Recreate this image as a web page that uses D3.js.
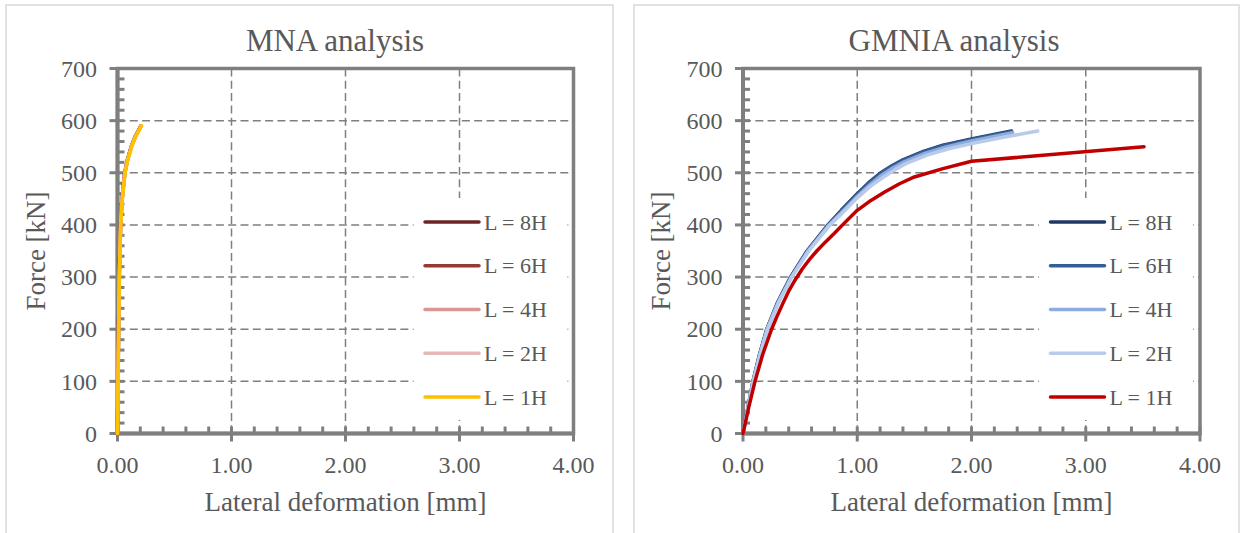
<!DOCTYPE html>
<html>
<head>
<meta charset="utf-8">
<script src="https://cdn.jsdelivr.net/npm/d3@7"></script>
<style>
body { margin: 0; background: #fff; }
text { font-family: "Liberation Serif", serif; fill: #595959; }
</style>
</head>
<body>
<svg width="1242" height="533"></svg>
<script>
// axis ticks
var xTicks = [0, 1, 2, 3, 4];
var yTicks = [0, 100, 200, 300, 400, 500, 600, 700];
var xMinor = d3.range(0, 4.001, 0.2);
var yMinor = d3.range(0, 701, 20);
var legendLabels = ["L = 8H", "L = 6H", "L = 4H", "L = 2H", "L = 1H"];

// MNA analysis: [lateral deformation mm, force kN]
var mna8H = [[0,0],[0.004,100],[0.009,200],[0.015,300],[0.026,400],[0.04,450],[0.063,500],[0.087,525],[0.12,550],[0.156,570],[0.205,590]];
var mna6H = [[0,0],[0.004,100],[0.009,200],[0.015,300],[0.027,400],[0.041,450],[0.064,500],[0.088,525],[0.121,550],[0.157,570],[0.206,590]];
var mna4H = [[0,0],[0.005,100],[0.01,200],[0.016,300],[0.027,400],[0.041,450],[0.065,500],[0.089,525],[0.122,550],[0.158,570],[0.208,590]];
var mna2H = [[0,0],[0.005,100],[0.01,200],[0.016,300],[0.028,400],[0.042,450],[0.065,500],[0.09,525],[0.123,550],[0.159,570],[0.209,590]];
var mna1H = [[0,0],[0.005,100],[0.01,200],[0.016,300],[0.028,400],[0.042,450],[0.066,500],[0.09,525],[0.124,550],[0.16,570],[0.21,590]];

// GMNIA analysis
var gmnia8H = [[0,0],[0.087,100],[0.143,150],[0.208,200],[0.3,250],[0.416,300],[0.56,350],[0.743,400],[0.86,428],[1.0,460],[1.1,481],[1.2,499],[1.3,513],[1.4,525],[1.58,541],[1.75,553],[2.0,565],[2.35,580]];
var gmnia6H = [[0,0],[0.088,100],[0.144,150],[0.209,200],[0.302,250],[0.418,300],[0.563,350],[0.746,400],[0.863,427],[1.0,458],[1.1,480],[1.2,498],[1.3,512],[1.4,524],[1.58,540],[1.75,552],[2.0,564],[2.35,579]];
var gmnia4H = [[0,0],[0.089,100],[0.146,150],[0.211,200],[0.305,250],[0.422,300],[0.568,350],[0.752,400],[0.87,426],[1.0,455],[1.11,477],[1.21,495],[1.31,509],[1.41,521],[1.59,537],[1.77,549],[2.0,561],[2.36,577]];
var gmnia2H = [[0,0],[0.09,100],[0.148,150],[0.214,200],[0.309,250],[0.427,300],[0.575,350],[0.762,400],[0.88,425],[1.0,452],[1.12,475],[1.23,492],[1.33,506],[1.43,518],[1.61,534],[1.8,546],[2.0,556],[2.3,569],[2.58,580]];
var gmnia1H = [[0,0],[0.05,50],[0.105,100],[0.17,150],[0.25,200],[0.3,226],[0.35,250],[0.4,273],[0.455,294],[0.52,316],[0.59,336],[0.65,351],[0.72,367],[0.8,384],[0.88,402],[1.0,428],[1.12,447],[1.24,463],[1.37,479],[1.5,492],[1.75,508],[2.0,522],[3.51,550]];

var mnaColors = ["#6e2424", "#983836", "#d99694", "#e6b9b8", "#ffc000"];
var gmniaColors = ["#203864", "#34609a", "#8faadc", "#b8cbe8", "#c00000"];

var svg = d3.select("svg");
var gridColor = "#7f7f7f", axisColor = "#7f7f7f";

var panels = [
  { frame: [6, 613], left: 117.5, right: 573.5, title: "MNA analysis", titleX: 335, yTitleX: 45,
    series: [mna8H, mna6H, mna4H, mna2H, mna1H], colors: mnaColors },
  { frame: [634, 1239], left: 743, right: 1200, title: "GMNIA analysis", titleX: 954, yTitleX: 670,
    series: [gmnia8H, gmnia6H, gmnia4H, gmnia2H, gmnia1H], colors: gmniaColors }
];

panels.forEach(drawPanel);

function drawPanel(p) {
  var g = svg.append("g");

  g.append("rect")
      .attr("x", p.frame[0]).attr("y", 5)
      .attr("width", p.frame[1] - p.frame[0]).attr("height", 560)
      .attr("fill", "none").style("stroke", "#d9d9d9").style("stroke-width", "1.5px");

  var x = d3.scaleLinear().domain([0, 4]).range([p.left, p.right]);
  var y = d3.scaleLinear().domain([0, 700]).range([433.5, 68.5]);

  // gridlines
  g.selectAll(".vgrid").data(xTicks.slice(1, -1)).enter().append("line")
      .attr("x1", function(d) { return x(d); }).attr("x2", function(d) { return x(d); })
      .attr("y1", y(700)).attr("y2", y(0))
      .style("stroke", gridColor).style("stroke-width", "1.5px").style("stroke-dasharray", "8,4.3");
  g.selectAll(".hgrid").data(yTicks.slice(1, -1)).enter().append("line")
      .attr("x1", x(0)).attr("x2", x(4))
      .attr("y1", function(d) { return y(d); }).attr("y2", function(d) { return y(d); })
      .style("stroke", gridColor).style("stroke-width", "1.5px").style("stroke-dasharray", "8,4.3");

  // legend background hides the grid
  g.append("rect").attr("x", p.left + 296).attr("y", 198).attr("width", 154).attr("height", 222).attr("fill", "#fff");

  // plot area border
  g.append("rect")
      .attr("x", x(0)).attr("y", y(700))
      .attr("width", x(4) - x(0)).attr("height", y(0) - y(700))
      .attr("fill", "none").style("stroke", axisColor).style("stroke-width", "3.5px");

  // minor ticks, pointing inside
  g.selectAll(".xminor").data(xMinor).enter().append("line")
      .attr("x1", function(d) { return x(d); }).attr("x2", function(d) { return x(d); })
      .attr("y1", y(0)).attr("y2", y(0) - 7)
      .style("stroke", axisColor).style("stroke-width", "3px");
  g.selectAll(".yminor").data(yMinor).enter().append("line")
      .attr("x1", x(0)).attr("x2", x(0) + 7)
      .attr("y1", function(d) { return y(d); }).attr("y2", function(d) { return y(d); })
      .style("stroke", axisColor).style("stroke-width", "3px");

  // major ticks, pointing outside
  g.selectAll(".xmajor").data(xTicks).enter().append("line")
      .attr("x1", function(d) { return x(d); }).attr("x2", function(d) { return x(d); })
      .attr("y1", y(0)).attr("y2", y(0) + 8)
      .style("stroke", axisColor).style("stroke-width", "3px");
  g.selectAll(".ymajor").data(yTicks).enter().append("line")
      .attr("x1", x(0) - 8).attr("x2", x(0))
      .attr("y1", function(d) { return y(d); }).attr("y2", function(d) { return y(d); })
      .style("stroke", axisColor).style("stroke-width", "3px");

  // axes lines
  g.append("line").attr("x1", x(0)).attr("x2", x(4)).attr("y1", y(0)).attr("y2", y(0))
      .style("stroke", axisColor).style("stroke-width", "4px");
  g.append("line").attr("x1", x(0)).attr("x2", x(0)).attr("y1", y(0)).attr("y2", y(700))
      .style("stroke", axisColor).style("stroke-width", "4px");

  // tick labels
  g.selectAll(".xlab").data(xTicks).enter().append("text")
      .attr("x", function(d) { return x(d); }).attr("y", 473)
      .attr("text-anchor", "middle").style("font-size", "24px")
      .text(d3.format(".2f"));
  g.selectAll(".ylab").data(yTicks).enter().append("text")
      .attr("x", x(0) - 20.5).attr("y", function(d) { return y(d); }).attr("dy", "0.34em")
      .attr("text-anchor", "end").style("font-size", "24px")
      .text(d3.format("d"));

  // series (8H first, 1H on top)
  var line = d3.line().x(function(d) { return x(d[0]); }).y(function(d) { return y(d[1]); });
  g.selectAll(".series").data(p.series).enter().append("path")
      .attr("d", line)
      .attr("fill", "none")
      .style("stroke", function(d, i) { return p.colors[i]; })
      .style("stroke-width", "3.5px")
      .attr("stroke-linejoin", "round").attr("stroke-linecap", "round");

  // titles
  g.append("text").attr("x", p.titleX).attr("y", 51).attr("text-anchor", "middle")
      .style("font-size", "31px").text(p.title);
  g.append("text").attr("x", (x(0) + x(4)) / 2).attr("y", 511).attr("text-anchor", "middle")
      .style("font-size", "27px").text("Lateral deformation [mm]");
  g.append("text").attr("transform", "translate(" + p.yTitleX + "," + y(350) + ") rotate(-90)")
      .attr("text-anchor", "middle").style("font-size", "27px").text("Force [kN]");

  // legend
  var item = g.selectAll(".legend").data(legendLabels).enter().append("g")
      .attr("transform", function(d, i) { return "translate(" + (p.left + 307.5) + "," + (222 + i * 43.75) + ")"; });
  item.append("line").attr("x1", 0).attr("x2", 54)
      .style("stroke", function(d, i) { return p.colors[i]; })
      .style("stroke-width", "3.5px").attr("stroke-linecap", "round");
  item.append("text").attr("x", 59).attr("dy", "0.35em")
      .style("font-size", "22px").text(function(d) { return d; });
}
</script>
</body>
</html>
